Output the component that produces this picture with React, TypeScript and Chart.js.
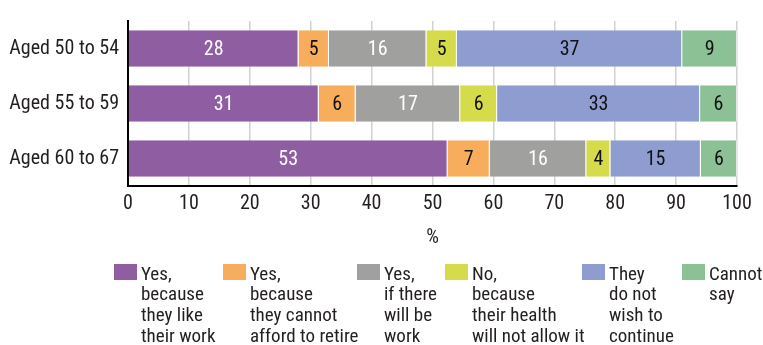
import React, { useEffect, useRef } from 'react';
import { Chart, registerables } from 'chart.js';

Chart.register(...registerables);

// ---- data ----
const categories = ['Aged 50 to 54', 'Aged 55 to 59', 'Aged 60 to 67'];
const seriesNames = [
  'Yes, because they like their work',
  'Yes, because they cannot afford to retire',
  'Yes, if there will be work',
  'No, because their health will not allow it',
  'They do not wish to continue',
  'Cannot say',
];
const legendLines = [
  ['Yes,', 'because', 'they like', 'their work'],
  ['Yes,', 'because', 'they cannot', 'afford to retire'],
  ['Yes,', 'if there', 'will be', 'work'],
  ['No,', 'because', 'their health', 'will not allow it'],
  ['They', 'do not', 'wish to', 'continue'],
  ['Cannot', 'say'],
];
const likeWork = [28, 31, 53];
const cannotAfford = [5, 6, 7];
const ifWork = [16, 17, 16];
const health = [5, 6, 4];
const notWish = [37, 33, 15];
const cannotSay = [9, 6, 6];
const xTickMin = 0;
const xTickMax = 100;
const xTickStep = 10;
const xTitle = '%';

// ---- style ----
const FONT = "'Roboto Condensed', 'DejaVu Sans Condensed', sans-serif";
const WEIGHT = 400;
const TEXT = '#231f20';
const colors = ['#8f5da2', '#f7ad5b', '#a0a09f', '#d6db4c', '#8e9ccf', '#8bc195'];
const labelColors = ['#ffffff', '#111111', '#ffffff', '#111111', '#111111', '#111111'];
const LEGEND_X = [114, 223, 357, 445, 582, 682];
const LEGEND_TOP = 264;
const LEGEND_BASE = 279.5;
const LEGEND_LINE = 20.8;

const series = [likeWork, cannotAfford, ifWork, health, notWish, cannotSay];
const rowTotals = categories.map((_, i) => series.reduce((s, arr) => s + arr[i], 0));

const valueLabelPlugin = {
  id: 'valueLabels',
  afterDatasetsDraw(chart: any) {
    const ctx = chart.ctx;
    ctx.save();
    ctx.font = `${WEIGHT} 20px ${FONT}`;
    ctx.textAlign = 'center';
    ctx.textBaseline = 'middle';
    chart.data.datasets.forEach((ds: any, di: number) => {
      const meta = chart.getDatasetMeta(di);
      meta.data.forEach((el: any, i: number) => {
        const p = el.getCenterPoint();
        ctx.fillStyle = labelColors[di];
        ctx.fillText(String(ds.rawValues[i]), p.x, p.y + 1);
      });
    });
    ctx.restore();
  },
};

const legendPlugin = {
  id: 'multiLineLegend',
  afterDraw(chart: any) {
    const ctx = chart.ctx;
    ctx.save();
    ctx.font = `${WEIGHT} 19px ${FONT}`;
    ctx.textAlign = 'left';
    ctx.textBaseline = 'alphabetic';
    chart.data.datasets.forEach((ds: any, i: number) => {
      const x = LEGEND_X[i];
      ctx.fillStyle = ds.backgroundColor;
      ctx.fillRect(x, LEGEND_TOP, 23, 16);
      ctx.fillStyle = TEXT;
      legendLines[i].forEach((line, j) => {
        ctx.fillText(line, x + 27, LEGEND_BASE + j * LEGEND_LINE);
      });
    });
    ctx.restore();
  },
};

export default function App() {
  const ref = useRef<HTMLCanvasElement>(null);

  useEffect(() => {
    document.body.style.margin = '0';
    const canvas = ref.current;
    if (!canvas) return;
    const chart = new Chart(canvas, {
      type: 'bar',
      data: {
        labels: categories,
        datasets: series.map((arr, i) => ({
          label: seriesNames[i],
          data: arr.map((v, r) => (v / rowTotals[r]) * 100),
          rawValues: arr,
          backgroundColor: colors[i],
          borderColor: 'rgba(255,255,255,0.45)',
          borderWidth: { left: 0, right: 1, top: 0, bottom: 0 },
          borderSkipped: false,
          barPercentage: 0.663,
          categoryPercentage: 1,
        })) as any,
      },
      options: {
        indexAxis: 'y',
        responsive: false,
        animation: false,
        devicePixelRatio: 1,
        layout: { padding: { left: 0, right: 26, top: 14, bottom: 87 } },
        plugins: {
          legend: { display: false },
          tooltip: { enabled: false },
        },
        scales: {
          x: {
            stacked: true,
            min: xTickMin,
            max: xTickMax,
            ticks: {
              stepSize: xTickStep,
              font: { family: FONT, size: 20, weight: WEIGHT },
              color: TEXT,
              padding: 6,
            },
            grid: { display: true, drawTicks: false, color: '#d2d2d2', lineWidth: 1.5 },
            border: { display: true, color: '#000000', width: 2 },
            title: {
              display: true,
              text: xTitle,
              font: { family: FONT, size: 20, weight: WEIGHT },
              color: TEXT,
              padding: { top: 0, bottom: 8 },
            },
            afterFit: (s: any) => {
              s.height = 72;
            },
          },
          y: {
            stacked: true,
            ticks: {
              font: { family: FONT, size: 20, weight: WEIGHT },
              color: TEXT,
              padding: 9,
            },
            grid: { display: false, drawTicks: false },
            border: { display: true, color: '#000000', width: 2 },
            afterFit: (s: any) => {
              s.width = 128;
            },
          },
        },
      },
      plugins: [valueLabelPlugin, legendPlugin],
    });
    return () => chart.destroy();
  }, []);

  return (
    <div style={{ width: 763, height: 345 }}>
      <canvas ref={ref} width={763} height={345} style={{ display: 'block' }} />
    </div>
  );
}
